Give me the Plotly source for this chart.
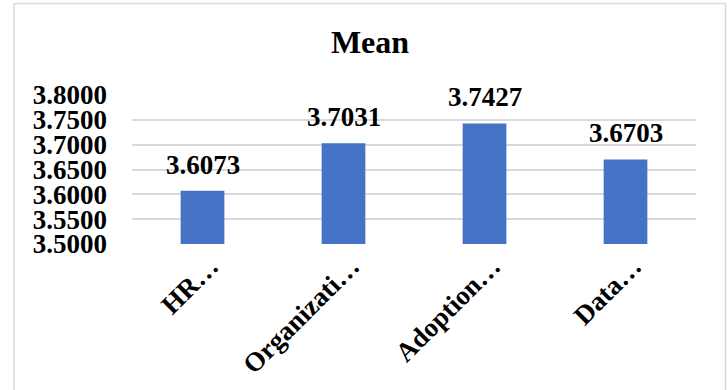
import plotly.graph_objects as go

categories = ["HR…", "Organizati…", "Adoption…", "Data…"]
values = [3.6073, 3.7031, 3.7427, 3.6703]
value_labels = ["3.6073", "3.7031", "3.7427", "3.6703"]
y_ticks = [3.50, 3.55, 3.60, 3.65, 3.70, 3.75, 3.80]
y_tick_labels = ["3.5000", "3.5500", "3.6000", "3.6500", "3.7000", "3.7500", "3.8000"]

FONT = "Liberation Serif, Times New Roman, serif"
L, R, T, B = 132, 32, 95, 146
W, H = 728, 390
pw, ph = W - L - R, H - T - B

fig = go.Figure()
fig.add_trace(go.Bar(
    x=categories, y=values,
    marker=dict(color="#4472C4", line=dict(width=0)),
    cliponaxis=False,
))

for c, v, s in zip(categories, values, value_labels):
    fig.add_annotation(x=c, y=v, text="<b>" + s + "</b>", showarrow=False,
                       xanchor="center", yanchor="bottom", yshift=9,
                       font=dict(family=FONT, size=27, color="#000000"))

fig.update_layout(
    width=W, height=H,
    margin=dict(l=L, r=R, t=T, b=B),
    paper_bgcolor="white", plot_bgcolor="white",
    bargap=0.69,
    showlegend=False,
    title=dict(text="<b>Mean</b>", x=(370) / W, xanchor="center", y=1 - 53 / H, yanchor="bottom",
               yref="container", font=dict(family=FONT, size=32, color="#000000")),
    font=dict(family=FONT, color="#000000"),
    xaxis=dict(showgrid=False, showline=False, ticks="", tickangle=-45,
               tickvals=categories, ticktext=["<b>" + c + "</b>" for c in categories],
               ticklabelshift=8,
               tickfont=dict(family=FONT, size=27, color="#000000")),
    yaxis=dict(range=[3.5, 3.8], tickvals=y_ticks, ticktext=["<b>" + t + "</b>" for t in y_tick_labels],
               showgrid=True, gridcolor="#D9D9D9", gridwidth=1.5, zeroline=False,
               showline=False, ticks="", ticklabelstandoff=24,
               tickfont=dict(family=FONT, size=27, color="#000000")),
    shapes=[dict(type="rect", xref="paper", yref="paper",
                 x0=(14 - L) / pw, x1=(725.5 - L) / pw,
                 y0=(H - B - 400) / ph, y1=(H - B - 3.5) / ph,
                 line=dict(color="#D9D9D9", width=1.5), fillcolor="rgba(0,0,0,0)", layer="below")],
)

fig.write_html("out.html")
